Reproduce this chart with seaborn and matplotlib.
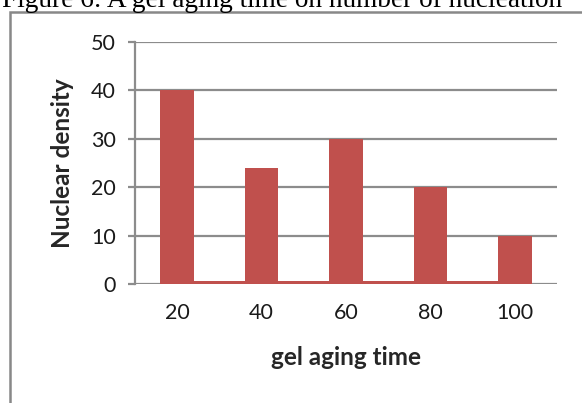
import numpy as np
import pandas as pd
import matplotlib
matplotlib.use("Agg")
import matplotlib.pyplot as plt
import seaborn as sns
from matplotlib.patches import Rectangle

# data
aging_time = ["20", "40", "60", "80", "100"]
nuclear_density = [40, 24, 30, 20, 10]
strip_level = 0.6  # thin band drawn between the bars near zero

caption = "Figure 6: A gel aging time on number of nucleation"
bar_color = "#C0504D"
grid_color = "#8C8C8C"

sns.set_theme(style="white")
plt.rcParams["font.family"] = ["Lato", "DejaVu Sans"]

df = pd.DataFrame({"time": aging_time, "density": nuclear_density})

fig = plt.figure(figsize=(5.82, 4.03), dpi=100)
ax = fig.add_axes([135 / 582, 1 - 284 / 403, 422 / 582, 242 / 403])

# outer frame of the embedded chart
fig.patches.append(Rectangle((10 / 582, -0.1), 1.2, 1 - 12 / 403 + 0.1,
                             transform=fig.transFigure, fill=False,
                             edgecolor="#888888", linewidth=1.8))

# cropped caption at the very top
fig.text(0.003, 1 - 7 / 403, caption, family="Liberation Serif",
         fontsize=19.6, ha="left", va="baseline", color="black")

sns.barplot(data=df, x="time", y="density", order=aging_time,
            color=bar_color, saturation=1, width=0.4, ax=ax, zorder=3,
            edgecolor="none", linewidth=0)
ax.fill_between([0, len(aging_time) - 1], 0, strip_level,
                color=bar_color, linewidth=0, zorder=2)

ax.set_ylim(0, 50)
ax.set_xlim(-0.5, len(aging_time) - 0.5)
ax.set_yticks(range(0, 51, 10))
ax.yaxis.grid(True, color=grid_color, linewidth=1.6)
ax.set_axisbelow(True)

for side in ["top", "right", "bottom"]:
    ax.spines[side].set_visible(False)
ax.spines["left"].set_color(grid_color)
ax.spines["left"].set_linewidth(1.6)

ax.tick_params(axis="y", direction="out", length=5, width=1.6, color=grid_color,
               labelsize=15.5, labelcolor="#1a1a1a", pad=9, left=True)
ax.tick_params(axis="x", length=0, labelsize=15.5, labelcolor="#1a1a1a", pad=14)

ax.set_xlabel("gel aging time", fontsize=17.5, fontweight="bold", labelpad=16)
ax.set_ylabel("Nuclear density", fontsize=17.5, fontweight="bold", labelpad=12)

fig.savefig("out.png", dpi=100)
